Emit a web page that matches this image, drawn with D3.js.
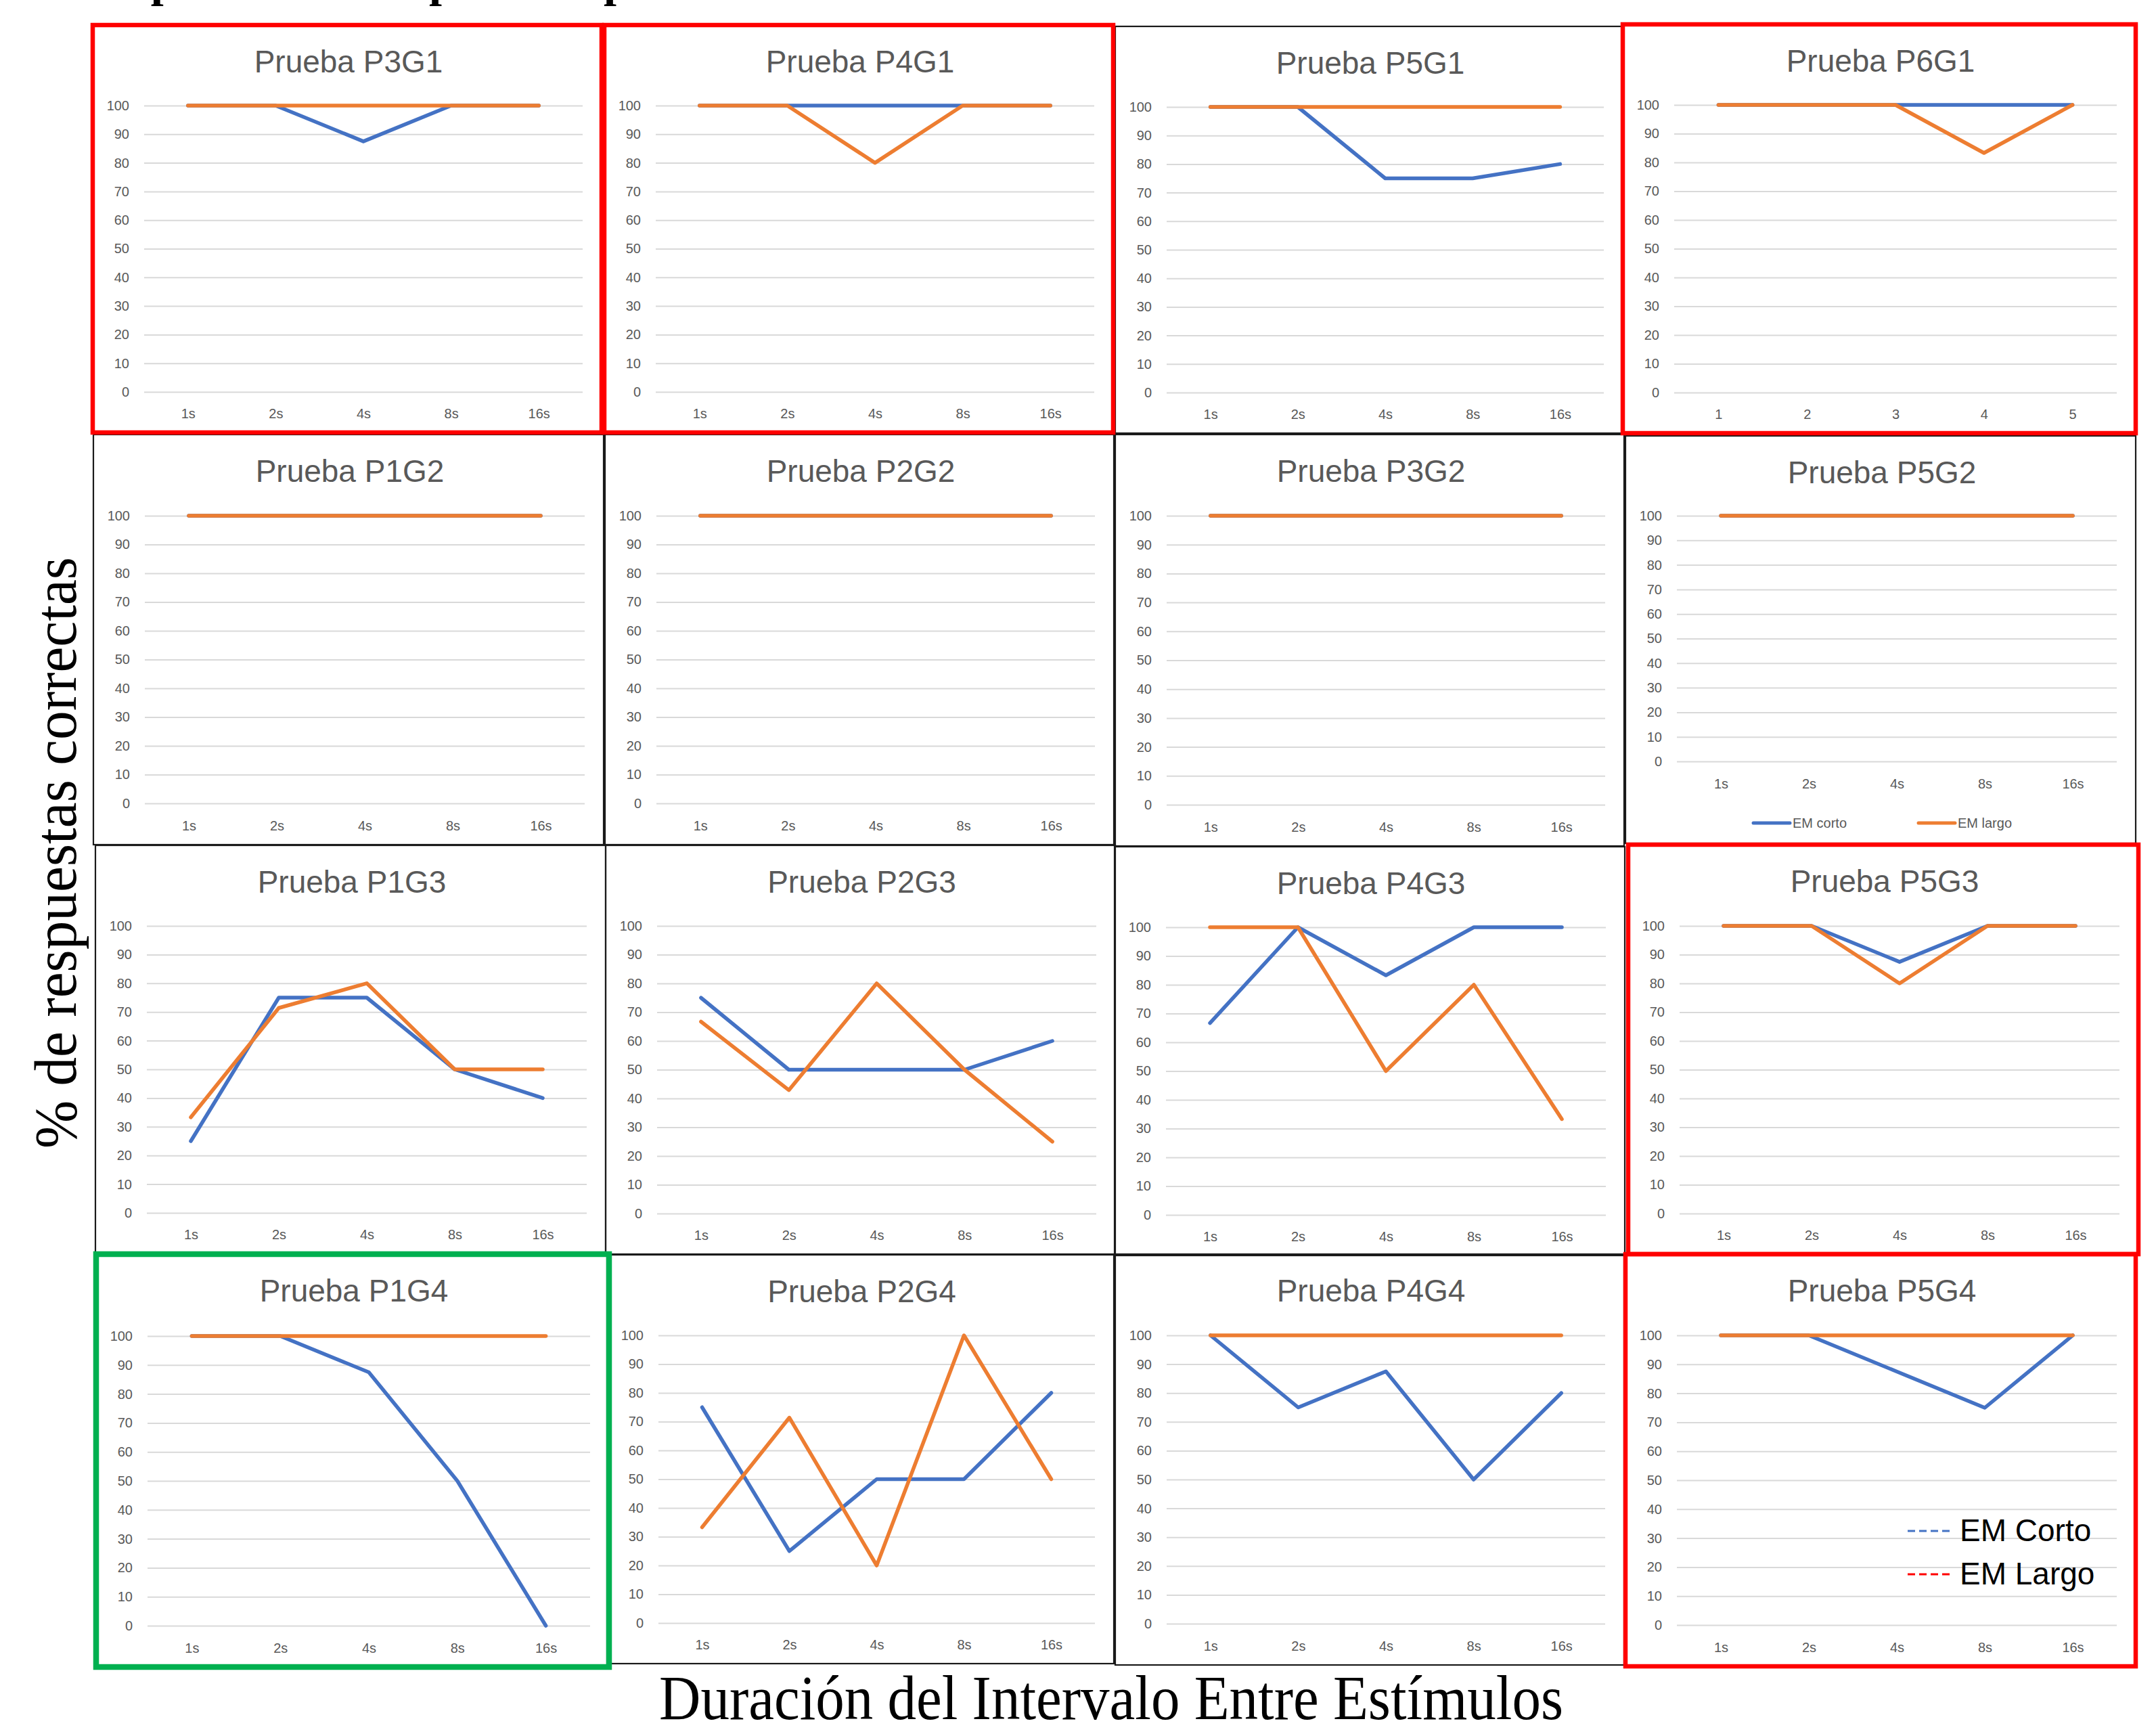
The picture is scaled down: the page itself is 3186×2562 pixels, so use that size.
<!DOCTYPE html>
<html>
<head>
<meta charset="utf-8">
<script src="https://cdn.jsdelivr.net/npm/d3@7"></script>
<style>
  html, body { margin: 0; padding: 0; background: #ffffff; }
  svg { display: block; }
</style>
</head>
<body>
<svg id="chart" width="3186" height="2562"></svg>
<script>
// ---- Data -----------------------------------------------------------------
const intervalLabels = ["1s", "2s", "4s", "8s", "16s"];
const ordinalLabels = ["1", "2", "3", "4", "5"];
const yTicks = [0, 10, 20, 30, 40, 50, 60, 70, 80, 90, 100];
const seriesNames = ["EM corto", "EM largo"];
const noteNames = ["EM Corto", "EM Largo"];

// % correct per interval, short-term (corto) and long-term (largo) memory
const p3g1Corto = [100, 100, 87.5, 100, 100];
const p3g1Largo = [100, 100, 100, 100, 100];
const p4g1Corto = [100, 100, 100, 100, 100];
const p4g1Largo = [100, 100, 80, 100, 100];
const p5g1Corto = [100, 100, 75, 75, 80];
const p5g1Largo = [100, 100, 100, 100, 100];
const p6g1Corto = [100, 100, 100, 100, 100];
const p6g1Largo = [100, 100, 100, 83.3, 100];
const p1g2Corto = [100, 100, 100, 100, 100];
const p1g2Largo = [100, 100, 100, 100, 100];
const p2g2Corto = [100, 100, 100, 100, 100];
const p2g2Largo = [100, 100, 100, 100, 100];
const p3g2Corto = [100, 100, 100, 100, 100];
const p3g2Largo = [100, 100, 100, 100, 100];
const p5g2Corto = [100, 100, 100, 100, 100];
const p5g2Largo = [100, 100, 100, 100, 100];
const p1g3Corto = [25, 75, 75, 50, 40];
const p1g3Largo = [33.3, 71.4, 80, 50, 50];
const p2g3Corto = [75, 50, 50, 50, 60];
const p2g3Largo = [66.7, 42.9, 80, 50, 25];
const p4g3Corto = [66.7, 100, 83.3, 100, 100];
const p4g3Largo = [100, 100, 50, 80, 33.3];
const p5g3Corto = [100, 100, 87.5, 100, 100];
const p5g3Largo = [100, 100, 80, 100, 100];
const p1g4Corto = [100, 100, 87.5, 50, 0];
const p1g4Largo = [100, 100, 100, 100, 100];
const p2g4Corto = [75, 25, 50, 50, 80];
const p2g4Largo = [33.3, 71.4, 20, 100, 50];
const p4g4Corto = [100, 75, 87.5, 50, 80];
const p4g4Largo = [100, 100, 100, 100, 100];
const p5g4Corto = [100, 100, 87.5, 75, 100];
const p5g4Largo = [100, 100, 100, 100, 100];

const panelTitles = [
  "Prueba P3G1", "Prueba P4G1", "Prueba P5G1", "Prueba P6G1",
  "Prueba P1G2", "Prueba P2G2", "Prueba P3G2", "Prueba P5G2",
  "Prueba P1G3", "Prueba P2G3", "Prueba P4G3", "Prueba P5G3",
  "Prueba P1G4", "Prueba P2G4", "Prueba P4G4", "Prueba P5G4"
];
const panelCorto = [
  p3g1Corto, p4g1Corto, p5g1Corto, p6g1Corto,
  p1g2Corto, p2g2Corto, p3g2Corto, p5g2Corto,
  p1g3Corto, p2g3Corto, p4g3Corto, p5g3Corto,
  p1g4Corto, p2g4Corto, p4g4Corto, p5g4Corto
];
const panelLargo = [
  p3g1Largo, p4g1Largo, p5g1Largo, p6g1Largo,
  p1g2Largo, p2g2Largo, p3g2Largo, p5g2Largo,
  p1g3Largo, p2g3Largo, p4g3Largo, p5g3Largo,
  p1g4Largo, p2g4Largo, p4g4Largo, p5g4Largo
];
const panelXLabels = [
  intervalLabels, intervalLabels, intervalLabels, ordinalLabels,
  intervalLabels, intervalLabels, intervalLabels, intervalLabels,
  intervalLabels, intervalLabels, intervalLabels, intervalLabels,
  intervalLabels, intervalLabels, intervalLabels, intervalLabels
];

// ---- Layout and styles ----------------------------------------------------
const COLORS = { corto: "#4472C4", largo: "#ED7D31", grid: "#D9D9D9", text: "#595959" };
const FRAME = {
  thin:  { stroke: "#1a1a1a", width: 2.2 },
  red:   { stroke: "#FF0000", width: 6.5 },
  green: { stroke: "#00B050", width: 8.5 }
};
// outer box of each embedded chart [x0, y0, x1, y1]
const panelBoxes = [
  [137, 37, 889, 639], [893, 37, 1645, 639], [1648, 39, 2398, 640], [2398, 36, 3156, 640],
  [138, 642, 892, 1248], [894, 642, 1646, 1248], [1648, 642, 2400, 1250], [2402, 644, 3156, 1246],
  [141, 1249, 895, 1852], [895, 1249, 1648, 1853], [1647, 1251, 2401, 1855], [2406, 1248, 3160, 1853],
  [142, 1853, 900, 2463], [897, 1854, 1646, 2458], [1648, 1853, 2400, 2460], [2402, 1853, 3156, 2462]
];
const panelFrames = [
  "red", "red", "thin", "red",
  "thin", "thin", "thin", "thin",
  "thin", "thin", "thin", "red",
  "green", "thin", "thin", "red"
];
const legendPanel = 7;   // the chart carrying the series legend
const notePanel = 15;    // the chart carrying the dashed key

const svg = d3.select("#chart");
svg.append("rect").attr("width", 3186).attr("height", 2562).attr("fill", "#ffffff");

const lineGen = (x, y) => d3.line()
  .x((d, i) => x(i))
  .y(d => y(d));

const panelsLayer = svg.append("g");
const thinFrames = svg.append("g");
const colorFrames = svg.append("g");

panelBoxes.forEach((box, k) => {
  const [x0, y0, x1, y1] = box;
  const h = y1 - y0;
  const compact = k === legendPanel;
  const top = y0 + (compact ? 118 : Math.round(h * 0.1977));
  const bottom = y0 + (compact ? 481 : Math.round(h * 0.9));
  const labelY = y0 + (compact ? 514 : Math.round(h * 0.9535));
  const gridL = x0 + 76, gridR = x1 - 28;

  const g = panelsLayer.append("g").attr("class", "panel");
  const x = d3.scalePoint().domain(d3.range(5)).range([gridL, gridR]).padding(0.5);
  const y = d3.scaleLinear().domain([0, 100]).range([bottom, top]);

  // title
  g.append("text")
    .attr("x", (x0 + x1) / 2 + 2)
    .attr("y", y0 + 70)
    .attr("text-anchor", "middle")
    .attr("font-family", "Liberation Sans, Arial, sans-serif")
    .attr("font-size", 46)
    .attr("fill", COLORS.text)
    .text(panelTitles[k]);

  // horizontal gridlines with value axis labels
  const yAxis = d3.axisLeft(y).tickValues(yTicks).tickSize(-(gridR - gridL)).tickPadding(22);
  const ya = g.append("g").attr("transform", `translate(${gridL},0)`).call(yAxis);
  ya.select(".domain").remove();
  ya.selectAll(".tick line").attr("stroke", COLORS.grid).attr("stroke-width", 2);
  ya.selectAll(".tick text")
    .attr("font-family", "Liberation Sans, Arial, sans-serif")
    .attr("font-size", 20)
    .attr("fill", COLORS.text);

  // category axis labels
  const xAxis = d3.axisBottom(x).tickSize(0).tickFormat(i => panelXLabels[k][i]);
  const xa = g.append("g").attr("transform", `translate(0,${labelY - 10})`).call(xAxis);
  xa.select(".domain").remove();
  xa.selectAll(".tick text")
    .attr("font-family", "Liberation Sans, Arial, sans-serif")
    .attr("font-size", 20)
    .attr("fill", COLORS.text);

  // the two series (short memory first, long memory on top)
  [[panelCorto[k], COLORS.corto], [panelLargo[k], COLORS.largo]].forEach(([vals, color]) => {
    g.append("path")
      .datum(vals)
      .attr("d", lineGen(x, y))
      .attr("fill", "none")
      .attr("stroke", color)
      .attr("stroke-width", 5.5)
      .attr("stroke-linecap", "round")
      .attr("stroke-linejoin", "round");
  });

  if (compact) {
    const ly = y0 + 572;
    const items = [[seriesNames[0], COLORS.corto, 2591], [seriesNames[1], COLORS.largo, 2835]];
    items.forEach(([name, color, lx]) => {
      g.append("line").attr("x1", lx).attr("x2", lx + 54).attr("y1", ly).attr("y2", ly)
        .attr("stroke", color).attr("stroke-width", 5).attr("stroke-linecap", "round");
      g.append("text").attr("x", lx + 58).attr("y", ly + 7)
        .attr("font-family", "Liberation Sans, Arial, sans-serif")
        .attr("font-size", 20).attr("fill", COLORS.text).text(name);
    });
  }

  if (k === notePanel) {
    const keys = [[noteNames[0], COLORS.corto, 2262], [noteNames[1], "#FF0000", 2326]];
    keys.forEach(([name, color, ky]) => {
      g.append("line").attr("x1", 2819).attr("x2", 2882).attr("y1", ky).attr("y2", ky)
        .attr("stroke", color).attr("stroke-width", 3).attr("stroke-dasharray", "11,6");
      g.append("text").attr("x", 2896).attr("y", ky + 15)
        .attr("font-family", "Liberation Sans, Arial, sans-serif")
        .attr("font-size", 46).attr("fill", "#000000").text(name);
    });
  }

  const style = panelFrames[k];
  const f = FRAME[style];
  (style === "thin" ? thinFrames : colorFrames).append("rect")
    .attr("x", x0).attr("y", y0).attr("width", x1 - x0).attr("height", h)
    .attr("fill", "none").attr("stroke", f.stroke).attr("stroke-width", f.width);
});

// ---- Shared axis titles ---------------------------------------------------
svg.append("text")
  .attr("transform", "translate(112,1260) rotate(-90)")
  .attr("text-anchor", "middle")
  .attr("font-family", "Liberation Serif, Times New Roman, serif")
  .attr("font-size", 88)
  .attr("textLength", 874)
  .attr("lengthAdjust", "spacingAndGlyphs")
  .attr("fill", "#000000")
  .text("% de respuestas correctas");

svg.append("text")
  .attr("x", 1642)
  .attr("y", 2540)
  .attr("text-anchor", "middle")
  .attr("font-family", "Liberation Serif, Times New Roman, serif")
  .attr("font-size", 94)
  .attr("textLength", 1336)
  .attr("lengthAdjust", "spacingAndGlyphs")
  .attr("fill", "#000000")
  .text("Duración del Intervalo Entre Estímulos");

// heading line above the grid (mostly above the page edge)
const heading = svg.append("text")
  .attr("y", -5)
  .attr("font-family", "Liberation Serif, Times New Roman, serif")
  .attr("font-weight", "bold")
  .attr("font-size", 68)
  .attr("fill", "#000000");
heading.append("tspan").attr("x", 117).text("Respuestas");
heading.append("tspan").attr("x", 634).text("por");
heading.append("tspan").attr("x", 892).text("prueba");
</script>
</body>
</html>
